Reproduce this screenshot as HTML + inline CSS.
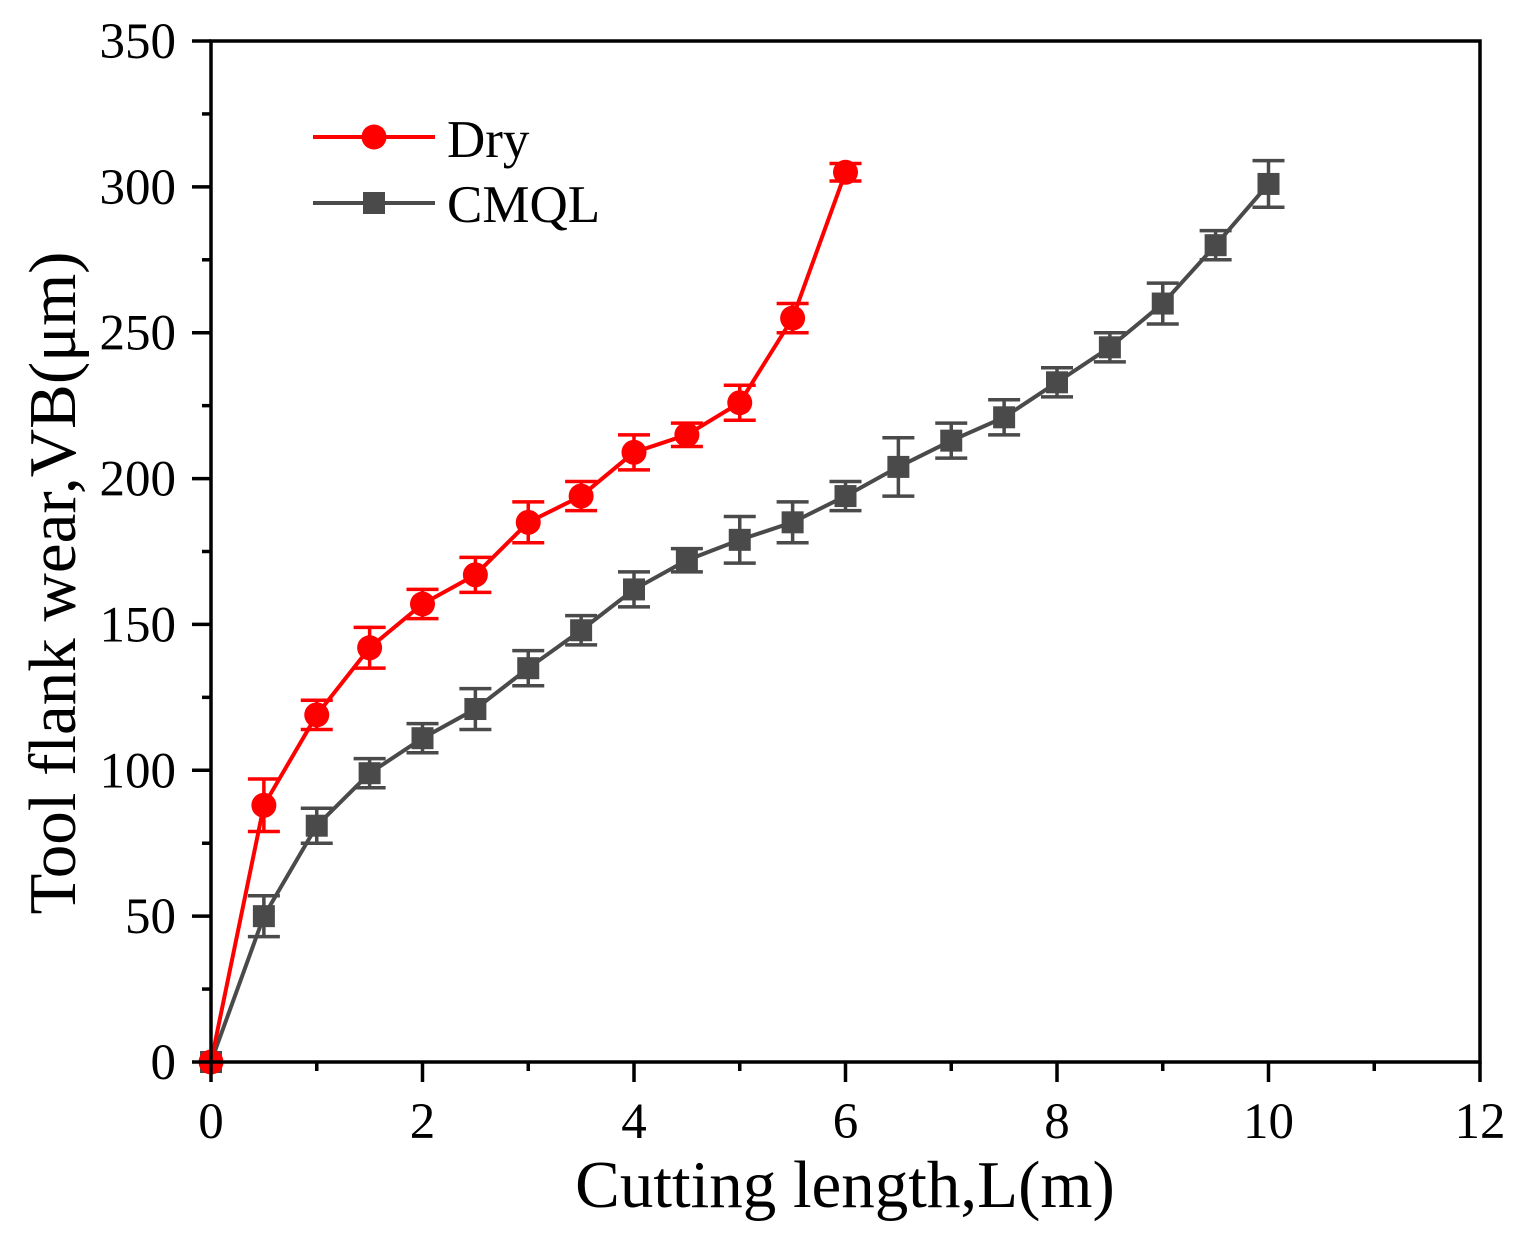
<!DOCTYPE html>
<html><head><meta charset="utf-8"><style>
html,body{margin:0;padding:0;background:#fff;}
svg{display:block;font-family:"Liberation Serif",serif;}
</style></head><body>
<svg id="chart" width="1528" height="1238" viewBox="0 0 1528 1238" xmlns="http://www.w3.org/2000/svg"></svg>
<script>
const xTicks=[0,2,4,6,8,10,12];
const yTicks=[0,50,100,150,200,250,300,350];
const dryX=[0,0.5,1,1.5,2,2.5,3,3.5,4,4.5,5,5.5,6];
const dryY=[0,88,119,142,157,167,185,194,209,215,226,255,305];
const dryErr=[0,9,5,7,5,6,7,5,6,4,6,5,3];
const cmqlX=[0,0.5,1,1.5,2,2.5,3,3.5,4,4.5,5,5.5,6,6.5,7,7.5,8,8.5,9,9.5,10];
const cmqlY=[0,50,81,99,111,121,135,148,162,172,179,185,194,204,213,221,233,245,260,280,301];
const cmqlErr=[0,7,6,5,5,7,6,5,6,4,8,7,5,10,6,6,5,5,7,5,8];

const svg=document.getElementById('chart');
const NS='http://www.w3.org/2000/svg';
const X0=211,X1=1480,Y0=1062,Y1=41;
const sx=v=>X0+(v-0)/(12-0)*(X1-X0);
const sy=v=>Y0-(v-0)/(350-0)*(Y0-Y1);
function mk(tag,attrs,parent){const e=document.createElementNS(NS,tag);for(const k in attrs)e.setAttribute(k,attrs[k]);(parent||svg).appendChild(e);return e;}

function series(xs,ys,es,color,shape,name){
  const g=mk('g',{});
  
  
  const pl=mk('polyline',{points:xs.map((x,i)=>sx(x)+','+sy(ys[i])).join(' '),fill:'none',stroke:color,'stroke-width':4},g);
  
  
  xs.forEach((x,i)=>{
    const cx=sx(x),cy=sy(ys[i]);
    if(es[i]>0){
      const eb=mk('path',{d:`M${cx},${sy(ys[i]+es[i])}V${sy(ys[i]-es[i])}M${cx-16},${sy(ys[i]+es[i])}h32M${cx-16},${sy(ys[i]-es[i])}h32`,stroke:color,'stroke-width':3.5,fill:'none'},g);
      
      
    }
    let m;
    if(shape==='circle') m=mk('circle',{cx:cx,cy:cy,r:12.5,fill:color},g);
    else m=mk('rect',{x:cx-11,y:cy-11,width:22,height:22,fill:color},g);
    
    
  });
}
series(cmqlX,cmqlY,cmqlErr,'#4a4a4a','square','cmql');
series(dryX,dryY,dryErr,'#ff0000','circle','dry');

// axes frame
const frame=mk('rect',{x:X0,y:Y1,width:X1-X0,height:Y0-Y1,fill:'none',stroke:'#000','stroke-width':3.5});



xTicks.forEach(t=>{
  const l=mk('line',{x1:sx(t),x2:sx(t),y1:Y0,y2:Y0+20,stroke:'#000','stroke-width':3.5});
  
  
  const tx=mk('text',{x:sx(t),y:1138,'font-size':51,'text-anchor':'middle',fill:'#000'});
  tx.textContent=t;
  
  
  if(t<12){const m=mk('line',{x1:sx(t+1),x2:sx(t+1),y1:Y0,y2:Y0+9,stroke:'#000','stroke-width':3.5});
  
  }
});
yTicks.forEach(t=>{
  const l=mk('line',{x1:X0-19,x2:X0,y1:sy(t),y2:sy(t),stroke:'#000','stroke-width':3.5});
  
  
  const tx=mk('text',{x:176,y:sy(t)+17,'font-size':51,'text-anchor':'end',fill:'#000'});
  tx.textContent=t;
  
  
  if(t<350){const m=mk('line',{x1:X0-9,x2:X0,y1:sy(t+25),y2:sy(t+25),stroke:'#000','stroke-width':3.5});
  
  }
});

const xt=mk('text',{x:845,y:1207,'font-size':67,'text-anchor':'middle',fill:'#000'});
xt.textContent='Cutting length,L(m)';


const yt=mk('text',{x:0,y:0,'font-size':67,'text-anchor':'middle',fill:'#000',transform:'translate(75,583) rotate(-90)'});
yt.textContent='Tool flank wear,VB(μm)';



const lg=mk('g',{});


const l1=mk('line',{x1:313,x2:435,y1:137,y2:137,stroke:'#ff0000','stroke-width':4},lg);


const c1=mk('circle',{cx:374,cy:137,r:12.5,fill:'#ff0000'},lg);


const t1=mk('text',{x:447,y:157,'font-size':53,fill:'#000'},lg);
t1.textContent='Dry';


const l2=mk('line',{x1:313,x2:435,y1:203,y2:203,stroke:'#4a4a4a','stroke-width':4},lg);


const r2=mk('rect',{x:363,y:192,width:22,height:22,fill:'#4a4a4a'},lg);


const t2=mk('text',{x:447,y:222,'font-size':53,fill:'#000'},lg);
t2.textContent='CMQL';


</script>
</body></html>
